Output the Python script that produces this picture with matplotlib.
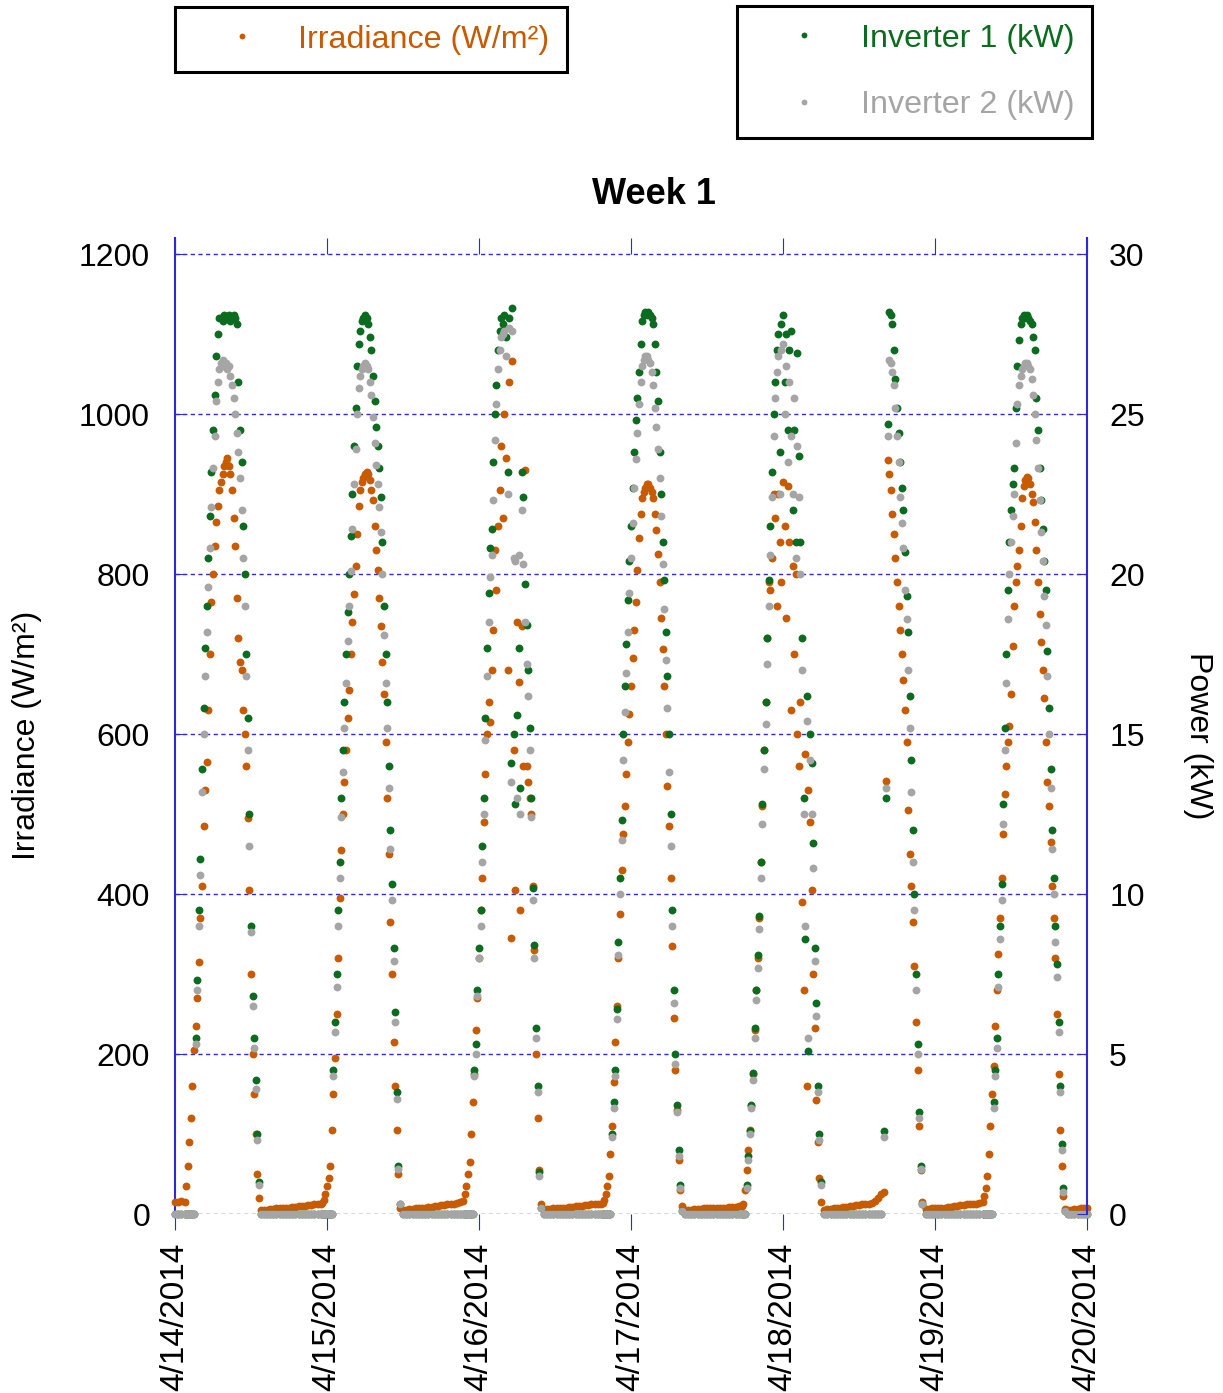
import numpy as np
import matplotlib.pyplot as plt
from matplotlib.lines import Line2D

plt.rcParams['font.family'] = ['Liberation Sans', 'DejaVu Sans']

orange = '#C85A00'
green = '#0B6B1E'
grey = '#A5A5A5'
blue = '#2B2BD6'

# x axis: hours since 4/14/2014 00:00
tick_hours = [0, 24, 48, 72, 96, 120, 144]
tick_labels = ['4/14/2014', '4/15/2014', '4/16/2014', '4/17/2014',
               '4/18/2014', '4/19/2014', '4/20/2014']

# daytime readings every 15 min, starting at these hours
day_starts = [1.5, 23.25, 45.5, 67.5, 89.75, 112.0, 127.5]

irr_d1 = [15, 35, 60, 90, 120, 160, 205, 235, 270, 315, 370, 410, 485, 530, 565, 630, 700, 765, 800, 835,
          865, 885, 905, 915, 925, 935, 940, 945, 935, 925, 905, 870, 835, 770, 720, 690, 680, 630, 600, 560,
          495, 405, 300, 200, 150, 100, 50, 20, 5]
inv1_d1 = [0, 0, 0, 0, 0, 0, 0, 5.5, 7.3, 9.5, 11.1, 13.9, 15.8, 17.7, 19.0, 20.5, 21.8, 23.2, 24.5, 25.6,
           26.8, 27.5, 28.0, 28.0, 27.9, 28.1, 28.0, 28.0, 28.1, 27.9, 28.0, 28.1, 28.0, 27.8, 26.0, 24.5, 23.5,
           21.5, 20.0, 17.5, 15.5, 12.5, 9.0, 6.8, 5.5, 4.2, 2.5, 1.0, 0]
inv2_d1 = [0, 0, 0, 0, 0, 0, 0, 5.3, 7.0, 9.0, 10.6, 13.2, 15.0, 16.8, 18.2, 19.6, 20.8, 22.1, 23.3, 24.3,
           25.4, 26.0, 26.4, 26.6, 26.7, 26.5, 26.6, 26.4, 26.5, 26.2, 25.9, 25.5, 25.0, 24.4, 23.8, 23.0, 22.0,
           20.5, 19.0, 16.8, 14.5, 11.5, 8.8, 6.5, 5.2, 3.9, 2.3, 0.9, 0]

irr_d2 = [14, 18, 25, 35, 45, 60, 105, 150, 195, 250, 320, 395, 455, 500, 540, 580, 620, 655, 700, 740,
          775, 810, 850, 885, 905, 915, 920, 925, 928, 925, 918, 905, 893, 860, 830, 805, 770, 735, 690, 650,
          590, 520, 450, 365, 300, 215, 160, 105, 50, 8]
inv1_d2 = [0, 0, 0, 0, 0, 0, 0, 4.5, 6.0, 7.5, 9.5, 11.0, 13.0, 14.5, 16.0, 17.5, 18.8, 20.0, 21.2, 22.5,
           24.0, 25.2, 26.5, 27.2, 27.6, 27.9, 28.0, 28.1, 28.0, 27.8, 27.4, 27.0, 26.2, 25.4, 24.6, 24.0, 23.3,
           22.4, 21.0, 19.0, 17.5, 16.0, 14.0, 12.0, 10.3, 8.3, 6.3, 3.8, 1.5, 0.3]
inv2_d2 = [0, 0, 0, 0, 0, 0, 0, 4.3, 5.7, 7.1, 9.0, 10.5, 12.4, 13.8, 15.2, 16.6, 17.9, 19.0, 20.1, 21.4,
           22.8, 23.9, 25.0, 25.8, 26.2, 26.4, 26.5, 26.6, 26.5, 26.4, 26.0, 25.6, 24.9, 24.1, 23.4, 22.8, 22.1,
           21.3, 20.0, 18.1, 16.6, 15.2, 13.3, 11.4, 9.8, 7.9, 6.0, 3.6, 1.4, 0.3]

irr_d3 = [16, 25, 35, 50, 65, 100, 140, 175, 230, 270, 320, 380, 420, 490, 550, 600, 640, 615, 680, 730,
          830, 780, 860, 905, 960, 870, 1000, 945, 680, 1040, 345, 1066, 580, 405, 740, 665, 380, 735, 560, 930,
          560, 540, 520, 500, 410, 330, 200, 120, 55, 12]
inv1_d3 = [0, 0, 0, 0, 0, 0, 0, 4.5, 5.3, 7.0, 8.3, 9.5, 11.5, 13.0, 15.5, 17.7, 19.4, 20.8, 21.4, 23.5,
           25.0, 25.9, 27.0, 27.6, 28.0, 27.8, 28.1, 27.4, 23.2, 28.0, 14.1, 28.3, 15.0, 12.8, 15.6, 17.7, 13.3,
           23.2, 22.4, 19.7, 18.4, 17.0, 15.2, 13.0, 10.2, 8.4, 5.8, 4.0, 1.3, 0.2]
inv2_d3 = [0, 0, 0, 0, 0, 0, 0, 4.3, 5.0, 6.8, 8.0, 9.0, 11.0, 12.5, 14.8, 16.8, 18.5, 19.9, 20.6, 22.3,
           24.2, 25.3, 26.4, 27.0, 27.4, 27.5, 27.6, 26.8, 22.5, 27.7, 13.5, 27.6, 20.5, 20.4, 13.0, 20.6, 12.5,
           22.0, 20.3, 18.5, 17.2, 16.2, 14.5, 12.4, 9.8, 8.0, 5.5, 3.8, 1.2, 0.2]

irr_d4 = [14, 18, 25, 35, 48, 75, 110, 165, 215, 260, 320, 375, 430, 475, 510, 550, 590, 625, 660, 695,
          730, 765, 805, 845, 875, 895, 903, 908, 912, 912, 908, 902, 895, 875, 855, 825, 790, 745, 706, 660,
          600, 535, 485, 420, 335, 245, 180, 130, 68, 30, 10]
inv1_d4 = [0, 0, 0, 0, 0, 0, 2.5, 3.5, 4.5, 6.4, 8.5, 10.5, 12.3, 15.0, 16.5, 17.8, 19.2, 20.4, 21.5, 22.7,
           23.8, 24.8, 25.5, 26.3, 27.2, 27.9, 28.1, 28.2, 28.1, 28.2, 28.1, 28.0, 27.8, 27.2, 26.3, 25.4, 23.8,
           22.5, 21.0, 19.8, 18.2, 16.8, 15.0, 12.5, 9.5, 7.0, 5.0, 3.4, 2.0, 0.9, 0.1]
inv2_d4 = [0, 0, 0, 0, 0, 0, 2.4, 3.3, 4.3, 6.1, 8.1, 10.0, 11.7, 14.2, 15.7, 16.9, 18.2, 19.4, 20.5, 21.6,
           22.7, 23.6, 24.4, 25.3, 26.0, 26.5, 26.7, 26.8, 26.8, 26.7, 26.6, 26.3, 25.9, 25.2, 24.6, 23.9, 23.0,
           21.8, 20.3, 18.9, 17.3, 15.8, 13.8, 11.5, 9.0, 6.6, 4.7, 3.2, 1.8, 0.8, 0.1]

irr_d5 = [12, 30, 55, 80, 105, 135, 175, 230, 280, 320, 370, 440, 510, 580, 640, 720, 790, 780, 820, 900,
          870, 760, 900, 840, 790, 915, 860, 745, 910, 840, 630, 810, 700, 800, 600, 560, 640, 390, 280, 575,
          160, 530, 490, 405, 300, 233, 143, 90, 45, 15]
inv1_d5 = [0, 0, 0.9, 1.8, 2.6, 3.4, 4.4, 5.8, 7.0, 8.1, 9.3, 11.0, 12.8, 14.5, 16.0, 18.0, 19.8, 21.5, 23.2,
           25.0, 26.0, 27.0, 27.5, 23.8, 27.8, 28.1, 26.0, 27.5, 24.5, 27.0, 27.6, 22.0, 24.5, 21.0, 26.9, 23.7,
           21.0, 18.0, 13.0, 8.6, 16.2, 5.1, 15.0, 14.1, 11.6, 8.3, 6.6, 4.0, 2.5, 1.0]
inv2_d5 = [0, 0, 0.8, 1.7, 2.5, 3.3, 4.2, 5.5, 6.7, 7.7, 8.9, 10.5, 12.2, 13.9, 15.3, 17.2, 19.0, 20.6, 22.4,
           24.3, 25.5, 26.3, 26.8, 22.5, 27.0, 27.2, 25.0, 26.5, 23.5, 26.0, 24.3, 22.5, 25.5, 20.5, 24.0, 22.4,
           20.0, 17.0, 12.5, 9.0, 15.4, 5.5, 14.2, 12.5, 10.8, 7.9, 6.2, 3.8, 2.3, 0.9]

irr_d6 = [28, 541, 942, 925, 905, 875, 850, 820, 790, 760, 730, 700, 668, 630, 590, 505, 450, 410, 365, 310,
          240, 180, 110, 55, 15]
inv1_d6 = [2.6, 13.0, 24.7, 28.2, 28.1, 27.8, 27.0, 26.1, 25.2, 24.4, 23.5, 22.7, 22.0, 20.7, 19.3, 18.2, 16.2,
           14.2, 12.0, 10.0, 7.5, 5.3, 3.2, 1.5, 0.3]
inv2_d6 = [2.4, 13.3, 24.3, 26.7, 26.6, 26.3, 25.9, 25.2, 24.3, 23.5, 22.4, 21.6, 20.8, 19.5, 18.6, 17.0, 15.2,
           13.2, 11.0, 9.5, 7.0, 5.0, 3.0, 1.4, 0.3]

irr_d7 = [15, 22, 32, 48, 75, 110, 150, 185, 235, 280, 325, 370, 420, 475, 525, 560, 590, 610, 650, 710,
          760, 790, 810, 830, 860, 895, 910, 918, 921, 920, 912, 900, 890, 865, 830, 790, 750, 715, 680, 645,
          590, 540, 510, 465, 410, 370, 320, 250, 175, 105, 60, 22, 6]
inv1_d7 = [0, 0, 0, 0, 0, 0, 0, 3.5, 4.5, 5.5, 7.5, 9.0, 10.3, 12.8, 15.2, 17.5, 19.5, 21.0, 22.0, 22.8,
           23.3, 25.2, 26.5, 27.3, 27.8, 28.0, 28.1, 28.0, 28.1, 28.0, 27.9, 27.8, 27.4, 27.0, 25.5, 24.5, 23.3,
           22.3, 21.4, 20.4, 19.5, 17.6, 15.8, 13.9, 12.0, 10.5, 9.0, 7.8, 6.0, 4.0, 2.2, 0.8, 0.1]
inv2_d7 = [0, 0, 0, 0, 0, 0, 0, 3.3, 4.3, 5.2, 7.1, 8.6, 9.8, 12.2, 14.5, 16.6, 18.6, 20.0, 21.0, 21.8,
           22.5, 24.1, 25.3, 25.9, 26.2, 26.4, 26.5, 26.6, 26.6, 26.5, 26.4, 26.1, 25.6, 25.0, 24.2, 23.3, 22.3,
           21.3, 20.4, 19.3, 18.4, 16.8, 15.0, 13.3, 11.4, 10.0, 8.5, 7.4, 5.7, 3.8, 2.0, 0.7, 0.1]

# night irradiance every 30 min (inverters read 0 kW at night)
night_starts = [0.0, 14.0, 36.0, 58.25, 80.5, 102.5, 118.5, 141.0]
irr_n0 = [15, 15, 16]
irr_n1 = [5, 5, 6, 6, 7, 7, 8, 8, 8, 9, 9, 10, 10, 10, 11, 11, 12, 12, 13]
irr_n2 = [5, 5, 6, 6, 7, 7, 8, 8, 9, 9, 10, 10, 11, 11, 12, 12, 13, 14, 15]
irr_n3 = [5, 6, 6, 7, 7, 8, 8, 8, 9, 9, 10, 10, 10, 11, 11, 12, 12, 13, 13]
irr_n4 = [5, 5, 5, 6, 6, 6, 7, 7, 7, 7, 8, 8, 8, 8, 9, 9, 9, 10, 10]
irr_n5 = [5, 6, 6, 7, 8, 8, 9, 9, 10, 10, 11, 11, 12, 12, 13, 14, 16, 20, 25]
irr_n6 = [6, 6, 7, 7, 8, 8, 8, 9, 9, 10, 10, 11, 11, 12, 12, 13, 13, 14]
irr_n7 = [5, 5, 6, 6, 7, 7, 8]

days_irr = [irr_d1, irr_d2, irr_d3, irr_d4, irr_d5, irr_d6, irr_d7]
days_inv1 = [inv1_d1, inv1_d2, inv1_d3, inv1_d4, inv1_d5, inv1_d6, inv1_d7]
days_inv2 = [inv2_d1, inv2_d2, inv2_d3, inv2_d4, inv2_d5, inv2_d6, inv2_d7]
nights_irr = [irr_n0, irr_n1, irr_n2, irr_n3, irr_n4, irr_n5, irr_n6, irr_n7]

hours, irr, inv1, inv2 = [], [], [], []
for start, a, b, c in zip(day_starts, days_irr, days_inv1, days_inv2):
    hours.append(start + 0.25 * np.arange(len(a)))
    irr.append(a)
    inv1.append(b)
    inv2.append(c)
for start, a in zip(night_starts, nights_irr):
    hours.append(start + 0.5 * np.arange(len(a)))
    irr.append(a)
    inv1.append(np.zeros(len(a)))
    inv2.append(np.zeros(len(a)))
hours = np.concatenate(hours)
irr = np.concatenate(irr)
inv1 = np.concatenate(inv1)
inv2 = np.concatenate(inv2)

fig = plt.figure(figsize=(12.23, 13.93), dpi=100)
ax = fig.add_axes([175 / 1223, 179 / 1393, 912 / 1223, 976 / 1393])
ax2 = ax.twinx()

ax.scatter(hours, irr, s=32, c=orange, linewidths=0, zorder=3, clip_on=False)
ax2.scatter(hours, inv1, s=32, c=green, linewidths=0, clip_on=False)
ax2.scatter(hours, inv2, s=32, c=grey, linewidths=0, clip_on=False)

ax.set_xlim(0, 144)
ax.set_ylim(0, 1220)
ax2.set_ylim(0, 30.5)
ax.set_yticks(range(0, 1201, 200))
ax2.set_yticks(range(0, 31, 5))
ax.set_xticks(tick_hours)
ax.set_xticklabels(tick_labels, rotation=90)

ax.set_axisbelow(True)
ax.yaxis.grid(True, linestyle=(0, (3, 2.5)), color=blue, linewidth=1)

for s in ['top', 'bottom', 'right']:
    ax.spines[s].set_visible(False)
for s in ['top', 'bottom', 'left']:
    ax2.spines[s].set_visible(False)
ax.spines['left'].set_color(blue)
ax.spines['left'].set_linewidth(1.5)
ax2.spines['right'].set_color(blue)
ax2.spines['right'].set_linewidth(1.5)

ax.tick_params(axis='y', direction='in', length=7, color=blue, labelsize=23, pad=18)
ax2.tick_params(axis='y', direction='in', length=7, color=blue, labelsize=23, pad=16)
ax.tick_params(axis='x', direction='out', length=11.5, color=blue, labelsize=24, pad=9)

top = ax.secondary_xaxis('top')
top.set_xticks(tick_hours)
top.tick_params(direction='in', length=11.5, color=blue, labeltop=False)
top.spines['top'].set_visible(False)

fig.text(27 / 1223, 1 - 735 / 1393, 'Irradiance (W/m²)', rotation=90, fontsize=23,
         ha='center', va='center')
fig.text(1198 / 1223, 1 - 736 / 1393, 'Power (kW)', rotation=270, fontsize=23,
         ha='center', va='center')
fig.text(654 / 1223, 1 - 194 / 1393, 'Week 1', fontsize=26, fontweight='bold',
         ha='center', va='center')

h_irr = Line2D([], [], ls='none', marker='o', ms=4.2, mfc=orange, mec='none', label='Irradiance (W/m²)')
h_inv1 = Line2D([], [], ls='none', marker='o', ms=4.2, mfc=green, mec='none', label='Inverter 1 (kW)')
h_inv2 = Line2D([], [], ls='none', marker='o', ms=4.2, mfc=grey, mec='none', label='Inverter 2 (kW)')

leg1 = fig.legend(handles=[h_irr], loc='upper left', bbox_to_anchor=(175 / 1223, 1 - 7 / 1393),
                  borderaxespad=0, fontsize=23.2, fancybox=False, edgecolor='black', framealpha=1,
                  borderpad=0.55, handlelength=3.08, handletextpad=0.2, labelcolor='markerfacecolor')
leg1.get_frame().set_linewidth(2.2)
leg2 = fig.legend(handles=[h_inv1, h_inv2], loc='upper right', bbox_to_anchor=(1092 / 1223, 1 - 6 / 1393),
                  borderaxespad=0, fontsize=23.2, fancybox=False, edgecolor='black', framealpha=1,
                  borderpad=0.55, handlelength=3.02, handletextpad=0.26, labelspacing=1.12,
                  labelcolor='markerfacecolor')
leg2.get_frame().set_linewidth(2.2)

fig.savefig('out.png', dpi=100)
